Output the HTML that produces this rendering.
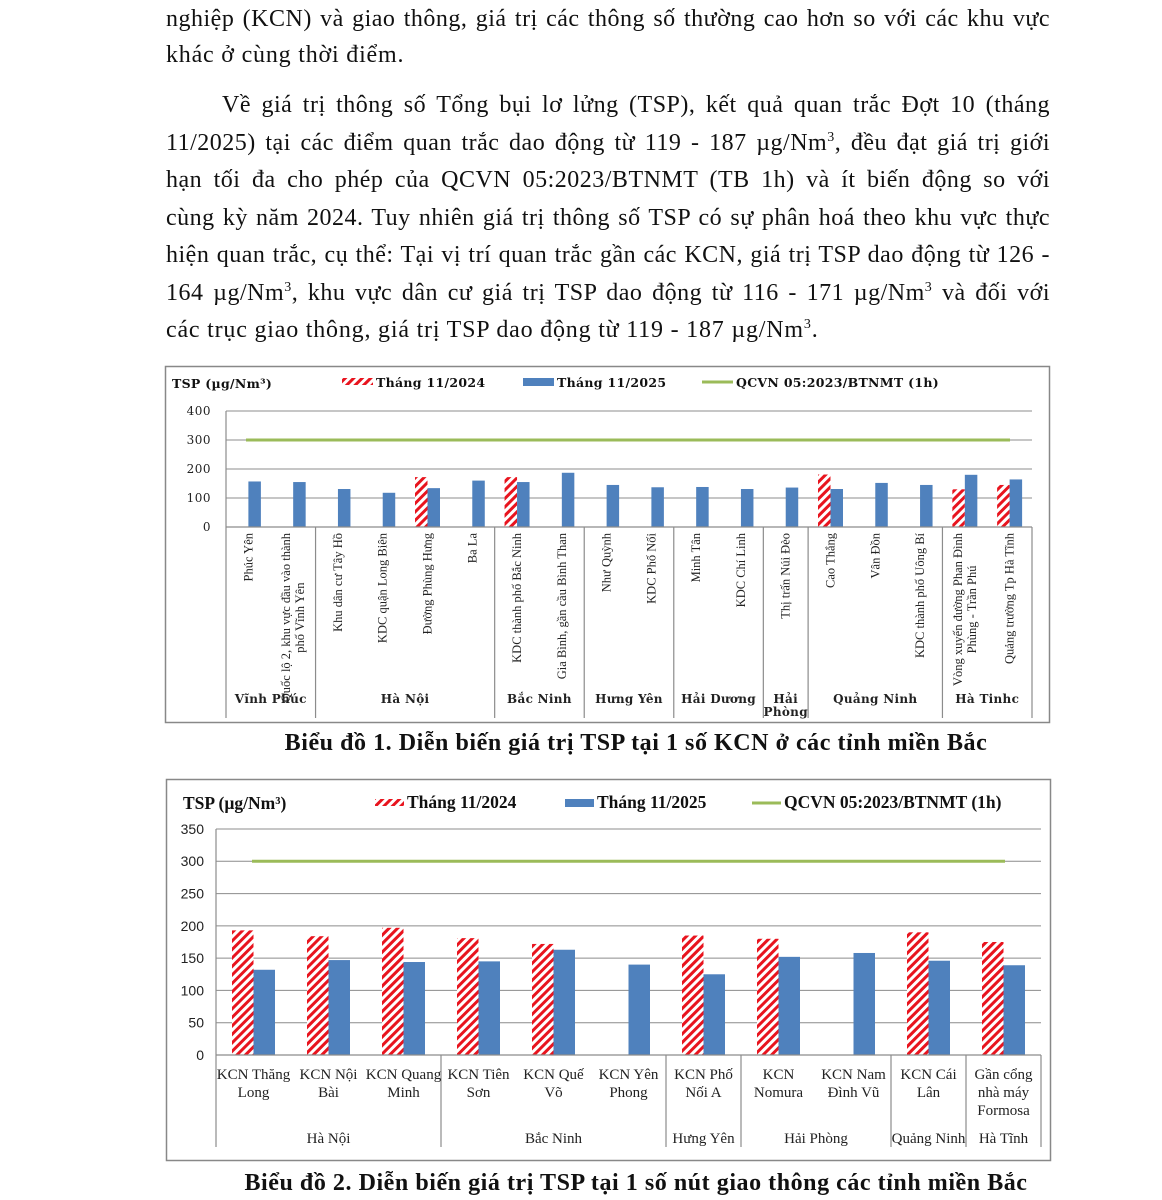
<!DOCTYPE html>
<html><head><meta charset="utf-8">
<style>
html,body{margin:0;padding:0;background:#fff;}
body{width:1162px;height:1200px;position:relative;overflow:hidden;font-family:"Liberation Serif",serif;}
.ln{position:absolute;left:166px;width:884px;font-size:24px;line-height:24px;color:#111;white-space:nowrap;letter-spacing:0.8px;}
.j{text-align:justify;text-align-last:justify;white-space:normal;letter-spacing:0.5px;}
sup{font-size:14px;line-height:0;vertical-align:9px;}
.cap{position:absolute;left:0;width:1272px;text-align:center;font-weight:bold;font-size:24px;letter-spacing:0.55px;color:#111;}
svg{position:absolute;left:0;top:0;}
</style></head><body>
<div>
<div class="ln j" style="top:7px">nghiệp (KCN) và giao thông, giá trị các thông số thường cao hơn so với các khu vực</div>
<div class="ln" style="top:43px">khác ở cùng thời điểm.</div>
<div class="ln j" style="top:93px;left:222px;width:828px">Về giá trị thông số Tổng bụi lơ lửng (TSP), kết quả quan trắc Đợt 10 (tháng</div>
<div class="ln j" style="top:131px">11/2025) tại các điểm quan trắc dao động từ 119 - 187 µg/Nm<sup>3</sup>, đều đạt giá trị giới</div>
<div class="ln j" style="top:168px">hạn tối đa cho phép của QCVN 05:2023/BTNMT (TB 1h) và ít biến động so với</div>
<div class="ln j" style="top:206px">cùng kỳ năm 2024. Tuy nhiên giá trị thông số TSP có sự phân hoá theo khu vực thực</div>
<div class="ln j" style="top:243px">hiện quan trắc, cụ thể: Tại vị trí quan trắc gần các KCN, giá trị TSP dao động từ 126 -</div>
<div class="ln j" style="top:281px">164 µg/Nm<sup>3</sup>, khu vực dân cư giá trị TSP dao động từ 116 - 171 µg/Nm<sup>3</sup> và đối với</div>
<div class="ln" style="top:318px">các trục giao thông, giá trị TSP dao động từ 119 - 187 µg/Nm<sup>3</sup>.</div>
</div>
<div class="cap" style="top:730px">Biểu đồ 1. Diễn biến giá trị TSP tại 1 số KCN ở các tỉnh miền Bắc</div>
<div class="cap" style="top:1170px">Biểu đồ 2. Diễn biến giá trị TSP tại 1 số nút giao thông các tỉnh miền Bắc</div>

<svg id="s" width="1162" height="1200">
<defs>
<pattern id="hatch" patternUnits="userSpaceOnUse" width="6" height="6" patternTransform="rotate(45)">
<rect width="6" height="6" fill="#fff"/><rect width="3" height="6" fill="#e8141e"/>
</pattern>
</defs>
</svg>

<script>
// ---- Chart 1 data ----
const c1Categories = [["Phúc Yên"],["Quốc lộ 2, khu vực đầu vào thành","phố Vĩnh Yên"],["Khu dân cư Tây Hồ"],["KDC quận Long Biên"],["Đường Phùng Hưng"],["Ba La"],["KDC thành phố Bắc Ninh"],["Gia Bình, gần cầu Bình Than"],["Như Quỳnh"],["KDC Phố Nối"],["Minh Tân"],["KDC Chí Linh"],["Thị trấn Núi Đèo"],["Cao Thắng"],["Vân Đồn"],["KDC thành phố Uông Bí"],["Vòng xuyến đường Phan Đình","Phùng - Trần Phú"],["Quảng trường Tp Hà Tĩnh"]];
const c1Values2024 = [null,null,null,null,172,null,172,null,null,null,null,null,null,181,null,null,130,145];
const c1Values2025 = [157,155,131,118,134,160,155,187,145,137,138,131,136,131,152,145,180,164];
const c1Groups = [["Vĩnh Phúc"],["Hà Nội"],["Bắc Ninh"],["Hưng Yên"],["Hải Dương"],["Hải","Phòng"],["Quảng Ninh"],["Hà Tinhc"]];
const c1GroupSizes = [2,4,2,2,2,1,3,2];
const c1Ticks = [0,100,200,300,400];
const c1Limit = 300;
// ---- Chart 2 data ----
const c2Categories = [["KCN Thăng","Long"],["KCN Nội","Bài"],["KCN Quang","Minh"],["KCN Tiên","Sơn"],["KCN Quế","Võ"],["KCN Yên","Phong"],["KCN Phố","Nối A"],["KCN","Nomura"],["KCN Nam","Đình Vũ"],["KCN Cái","Lân"],["Gần cổng","nhà máy","Formosa"]];
const c2Values2024 = [193,184,197,181,172,null,185,180,null,190,175];
const c2Values2025 = [132,147,144,145,163,140,125,152,158,146,139];
const c2Groups = ["Hà Nội","Bắc Ninh","Hưng Yên","Hải Phòng","Quảng Ninh","Hà Tĩnh"];
const c2GroupSizes = [3,3,1,2,1,1];
const c2Ticks = [0,50,100,150,200,250,300,350];
const c2Limit = 300;

const svg = document.getElementById('s');
const NS = 'http://www.w3.org/2000/svg';
function el(tag, attrs, parent){
  const e = document.createElementNS(NS, tag);
  for (const k in attrs) e.setAttribute(k, attrs[k]);
  (parent||svg).appendChild(e);
  return e;
}

function legend(cfg, g){
  const t = el('text',{x:cfg.legX[0],y:cfg.legY+5,'font-size':cfg.legFont,'font-weight':'bold','font-family':cfg.legFam,fill:'#111','letter-spacing':cfg.legLS},g);
  t.textContent = 'TSP (µg/Nm³)';
  
  
  const labs = ['Tháng 11/2024','Tháng 11/2025','QCVN 05:2023/BTNMT (1h)'];
  for (let i=0;i<3;i++){
    const lg = el('g',{},g);
    
    
    const x = cfg.legX[i+1];
    if (i===0) el('rect',{x:x,y:cfg.legY-5,width:cfg.swW,height:7,fill:'url(#hatch)'},lg);
    if (i===1) el('rect',{x:x,y:cfg.legY-5,width:cfg.swW,height:8,fill:'#4f81bd'},lg);
    if (i===2) el('line',{x1:x,x2:x+cfg.swW,y1:cfg.legY-1,y2:cfg.legY-1,stroke:'#9bbb59','stroke-width':3},lg);
    const tt = el('text',{x:x+cfg.swW+3,y:cfg.legY+4,'font-size':cfg.legFont,'font-weight':'bold','font-family':cfg.legFam,fill:'#111','letter-spacing':cfg.legLS},lg);
    tt.textContent = labs[i];
  }
}

function drawChart(cfg, cats, v24, v25, groups, gsizes, ticks, limit){
  const g = el('g',{});
  
  
  el('rect',{x:cfg.box[0]+0.5,y:cfg.box[1]+0.5,width:cfg.box[2],height:cfg.box[3],fill:'none',stroke:'#888','stroke-width':1.5},g);
  const x0=cfg.x0, x1=cfg.x1, yb=cfg.yb, yt=cfg.yt, max=ticks[ticks.length-1];
  const n = cats.length, cw=(x1-x0)/n;
  const ys = v => yb - v/max*(yb-yt);
  const xc = i => x0 + (i+0.5)*cw;
  ticks.forEach(t=>{
    if (t>0){ const gl = el('line',{x1:x0,x2:x1,y1:ys(t),y2:ys(t),stroke:'#8c8c8c','stroke-width':1},g);
      
       }
    const tl = el('text',{x:cfg.tickX,y:ys(t)+cfg.tickFont*0.35,'text-anchor':'end','font-size':cfg.tickFont,'font-family':cfg.tickFam,fill:'#222','letter-spacing':cfg.tickLS},g);
    tl.textContent = t;
    
    
  });
  const ll = el('line',{x1:cfg.limX[0],x2:cfg.limX[1],y1:ys(limit),y2:ys(limit),stroke:'#9bbb59','stroke-width':3},g);
  
  
  for (let i=0;i<n;i++){
    if (v24[i]!=null){
      const b = el('rect',{x:xc(i)-cfg.bw,y:ys(v24[i]),width:cfg.bw,height:yb-ys(v24[i]),fill:'url(#hatch)'},g);
      
      
    }
    if (v25[i]!=null){
      const b = el('rect',{x:xc(i),y:ys(v25[i]),width:cfg.bw,height:yb-ys(v25[i]),fill:'#4f81bd'},g);
      
      
    }
  }
  el('line',{x1:x0,x2:x0,y1:yt,y2:cfg.bottom,stroke:'#8c8c8c','stroke-width':1.2},g);
  el('line',{x1:x0,x2:x1,y1:yb,y2:yb,stroke:'#8c8c8c','stroke-width':1.2},g);
  let start=0;
  for (let k=0;k<gsizes.length;k++){
    const end=start+gsizes[k];
    const xe = x0+end*cw;
    el('line',{x1:xe,x2:xe,y1:yb,y2:cfg.bottom,stroke:'#8c8c8c','stroke-width':1.2},g);
    const gx = x0+(start+end)/2*cw;
    const lines = Array.isArray(groups[k])?groups[k]:[groups[k]];
    lines.forEach((s,j)=>{
      const gt = el('text',{x:gx,y:cfg.groupY+j*13,'text-anchor':'middle','font-size':cfg.groupFont,'font-weight':cfg.groupW,'font-family':cfg.groupFam,fill:'#222','letter-spacing':cfg.groupLS},g);
      gt.textContent = s;
      
      
    });
    start=end;
  }
  for (let i=0;i<n;i++){
    const lines = cats[i];
    if (cfg.rotated){
      const cg = el('g',{transform:'translate('+xc(i)+','+(yb+6)+') rotate(-90)'},g);
      
      
      const ts = lines.map((s,j)=>{
        const t = el('text',{x:0,y:(j-(lines.length-1)/2)*14+4,'text-anchor':'middle','font-size':12.5,'font-family':'Liberation Serif, serif',fill:'#222'},cg);
        t.textContent=s; return t;
      });
      let m=0; ts.forEach(t=>{m=Math.max(m,t.getComputedTextLength());});
      ts.forEach(t=>t.setAttribute('x',-m/2));
    } else {
      lines.forEach((s,j)=>{
        const t = el('text',{x:xc(i),y:cfg.catY+j*18,'text-anchor':'middle','font-size':15,'font-family':'Liberation Serif, serif',fill:'#222'},g);
        t.textContent=s;
        
        
      });
    }
  }
  legend(cfg,g);
}

drawChart({name:'chart-1',box:[165,366,884,356],x0:226,x1:1032,yb:527,yt:411,bottom:718,bw:12.5,
  tickX:211,tickFont:12,tickFam:'DejaVu Serif, serif',tickLS:0.5,limX:[246,1010],rotated:true,
  groupY:703,groupFont:12,groupW:'bold',groupLS:0.3,groupFam:'DejaVu Serif, serif',
  legX:[172,342,523,702],legY:383,swW:31,legFont:12.5,legLS:0.3,legFam:'DejaVu Serif, serif'},
  c1Categories,c1Values2024,c1Values2025,c1Groups,c1GroupSizes,c1Ticks,c1Limit);

drawChart({name:'chart-2',box:[166,779,884,381],x0:216,x1:1041,yb:1055,yt:829,bottom:1147,bw:21.5,
  tickX:204,tickFont:14,tickFam:'Liberation Sans, sans-serif',tickLS:0,limX:[252,1005],rotated:false,
  catY:1079,groupY:1143,groupFont:15,groupW:'normal',groupLS:0,groupFam:'Liberation Serif, serif',
  legX:[183,375,565,752],legY:804,swW:29,legFont:17.5,legLS:0,legFam:'Liberation Serif, serif'},
  c2Categories,c2Values2024,c2Values2025,c2Groups,c2GroupSizes,c2Ticks,c2Limit);
</script>
</body></html>
